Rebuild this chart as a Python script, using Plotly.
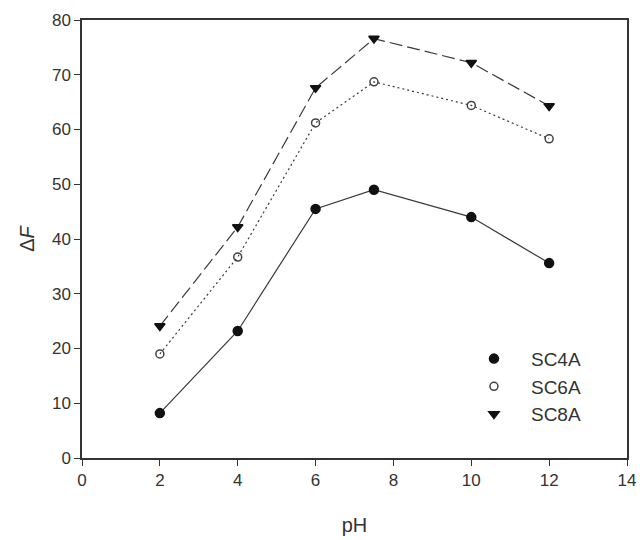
import plotly.graph_objects as go

ph = [2, 4, 6, 7.5, 10, 12]
sc4a = [8.2, 23.2, 45.5, 49.0, 44.0, 35.6]
sc6a = [19.0, 36.7, 61.2, 68.7, 64.4, 58.3]
sc8a = [24.1, 42.2, 67.6, 76.6, 72.2, 64.3]
series_names = ["SC4A", "SC6A", "SC8A"]
x_ticks = [0, 2, 4, 6, 8, 10, 12, 14]
y_ticks = [0, 10, 20, 30, 40, 50, 60, 70, 80]

FONT = "Liberation Sans, Arial, sans-serif"
line_color = "#3a3a3a"
fig = go.Figure()

styles = [
    dict(dash="solid", symbol="circle", mcolor="#111111", mline="#111111", size=9),
    dict(dash="2px,3px", symbol="circle-open", mcolor="#444444", mline="#444444", size=8),
    dict(dash="13px,5px", symbol="triangle-down", mcolor="#111111", mline="#111111", size=9),
]
data = [sc4a, sc6a, sc8a]

for name, ys, st in zip(series_names, data, styles):
    fig.add_trace(go.Scatter(
        x=ph, y=ys, mode="lines", showlegend=False,
        line=dict(color=line_color, width=1.2, dash=st["dash"]),
        hoverinfo="skip",
    ))
for name, ys, st in zip(series_names, data, styles):
    fig.add_trace(go.Scatter(
        x=ph, y=ys, mode="markers", name=name,
        marker=dict(symbol=st["symbol"], size=st["size"], color=st["mcolor"],
                    line=dict(color=st["mline"], width=1.5)),
    ))

axis_common = dict(
    showline=True, linecolor="#333333", linewidth=1.5, mirror=True,
    ticks="outside", ticklen=6, tickwidth=1.2, tickcolor="#333333",
    showgrid=False, zeroline=False, automargin=False,
    ticklabeloverflow="allow",
    tickfont=dict(family=FONT, size=17, color="#333333"),
)

fig.update_layout(
    width=640, height=540,
    margin=dict(l=82, r=13, t=20, b=82),
    paper_bgcolor="white", plot_bgcolor="white",
    xaxis=dict(range=[0, 14], tickvals=x_ticks, **axis_common,
               title=dict(text="pH", standoff=29,
                          font=dict(family=FONT, size=20, color="#333333"))),
    yaxis=dict(range=[0, 80], tickvals=y_ticks, **axis_common,
               title=dict(text="Δ<i>F</i>", standoff=12,
                          font=dict(family=FONT, size=20, color="#333333"))),
    legend=dict(x=0.688, y=0.27, xanchor="left", yanchor="top",
                bgcolor="rgba(0,0,0,0)", itemwidth=64,
                font=dict(family=FONT, size=19, color="#333333")),
    showlegend=True,
)

fig.write_html("out.html", config={"displayModeBar": False},
               post_script="document.body.style.margin='0';")
